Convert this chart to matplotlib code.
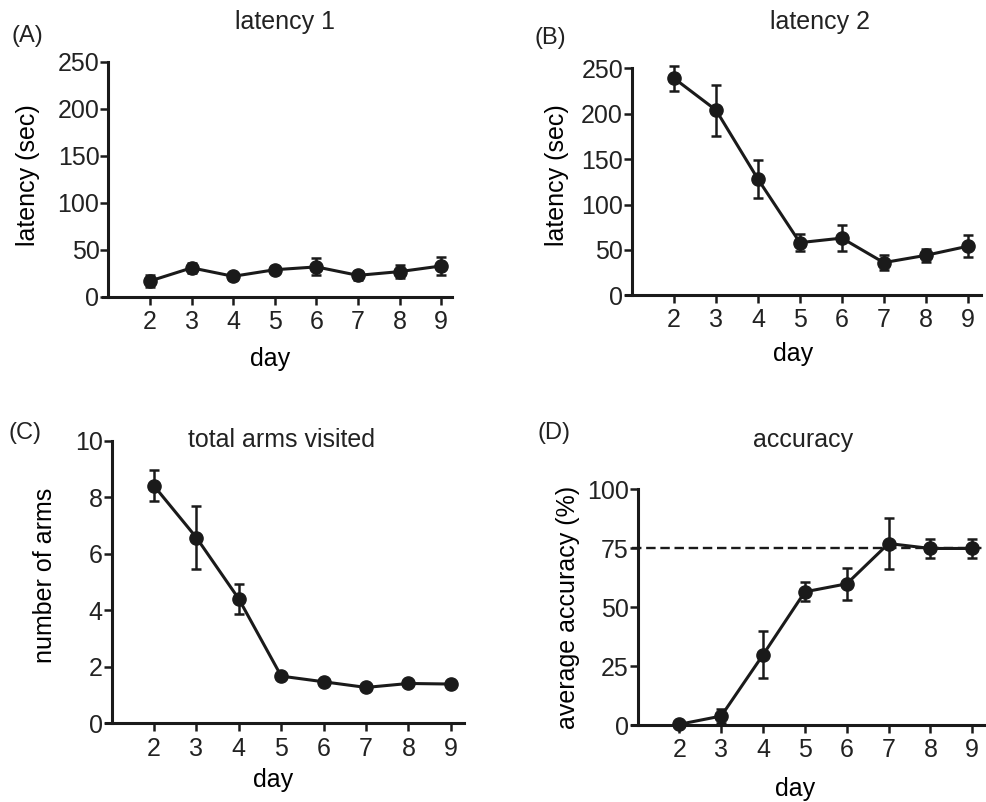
import matplotlib
matplotlib.use('Agg')
import matplotlib.pyplot as plt

# ---- data ----
days = [2, 3, 4, 5, 6, 7, 8, 9]

lat1_mean = [17, 31, 22, 29, 32, 23, 27, 33]
lat1_sem  = [6, 5, 4, 4, 9, 5, 7, 10]

lat2_mean = [239, 204, 128, 58, 63, 36, 44, 54]
lat2_sem  = [14, 28, 21, 9.5, 14, 8, 7, 12]

arms_mean = [8.4, 6.57, 4.4, 1.67, 1.47, 1.27, 1.41, 1.39]
arms_sem  = [0.55, 1.12, 0.53, 0.08, 0.08, 0.08, 0.08, 0.08]

acc_mean = [0.3, 3.8, 29.8, 56.5, 59.9, 77, 74.9, 74.9]
acc_sem  = [0, 3, 10, 4, 6.7, 11, 4, 4]
criterion = 75
# -------------------------------------

FS = 18

plt.rcParams['font.family'] = ['Liberation Sans', 'DejaVu Sans']
plt.rcParams['text.color'] = '#222222'

fig = plt.figure(figsize=(9.87, 8.02), dpi=100)

# axes boxes in figure fractions: left, bottom, width, height
ax_a = fig.add_axes([0.1040, 0.6297, 0.3540, 0.2930])
ax_b = fig.add_axes([0.6345, 0.6318, 0.3595, 0.2830])
ax_c = fig.add_axes([0.1071, 0.0981, 0.3630, 0.3524])
ax_d = fig.add_axes([0.6400, 0.0960, 0.3620, 0.2939])


def style_axes(ax, ymax, ystep, xmax):
    ax.set_xlim(0.86, xmax)
    ax.set_ylim(0, ymax)
    ax.spines['left'].set_position(('data', 1))
    ax.spines['top'].set_visible(False)
    ax.spines['right'].set_visible(False)
    for s in ('left', 'bottom'):
        ax.spines[s].set_linewidth(2.2)
        ax.spines[s].set_color('#1a1a1a')
    ax.set_xticks(days)
    ax.set_yticks(range(0, ymax + 1, ystep))
    ax.tick_params(axis='both', direction='out', length=5.5, width=1.8,
                   color='#1a1a1a', labelsize=FS, labelcolor='#222222')
    ax.tick_params(axis='y', pad=1)
    ax.tick_params(axis='x', pad=4)


def draw(ax, mean, sem):
    ax.errorbar(days, mean, yerr=sem, color='#1a1a1a', lw=2.2,
                marker='o', markersize=9.5, elinewidth=1.8,
                capsize=3.6, capthick=1.8, clip_on=False, zorder=3)


def labels(ax, title, tx, ty, ylab, xl, yl):
    ax.set_title(title, fontsize=FS, x=tx, y=ty, va='center', pad=0)
    ax.set_xlabel('day', fontsize=FS, va='center')
    ax.xaxis.set_label_coords(*xl)
    ax.set_ylabel(ylab, fontsize=FS, va='center')
    ax.yaxis.set_label_coords(*yl)


# ---------------- (A) latency 1 ----------------
draw(ax_a, lat1_mean, lat1_sem)
style_axes(ax_a, 250, 50, 9.26)
labels(ax_a, 'latency 1', 0.522, 1.17, 'latency (sec)', (0.479, -0.262), (-0.2135, 0.519))

# ---------------- (B) latency 2 ----------------
draw(ax_b, lat2_mean, lat2_sem)
style_axes(ax_b, 250, 50, 9.32)
labels(ax_b, 'latency 2', 0.546, 1.204, 'latency (sec)', (0.47, -0.259), (-0.196, 0.53))

# ---------------- (C) total arms visited ----------------
draw(ax_c, arms_mean, arms_sem)
style_axes(ax_c, 10, 2, 9.31)
labels(ax_c, 'total arms visited', 0.492, 1.0025, 'number of arms', (0.467, -0.2006), (-0.169, 0.525))

# ---------------- (D) accuracy ----------------
ax_d.axhline(criterion, color='#1a1a1a', lw=1.7, ls=(0, (4, 2)), zorder=2)
draw(ax_d, acc_mean, acc_sem)
style_axes(ax_d, 100, 25, 9.4)
labels(ax_d, 'accuracy', 0.48, 1.209, 'average accuracy (%)', (0.457, -0.2715), (-0.177, 0.50))

# panel letters
for lbl, px, py in [('(A)', 27, 36), ('(B)', 550, 38), ('(C)', 25, 433), ('(D)', 554, 433)]:
    fig.text(px / 987, 1 - py / 802, lbl, fontsize=17, ha='center', va='center')

fig.savefig('out.png', dpi=100)
